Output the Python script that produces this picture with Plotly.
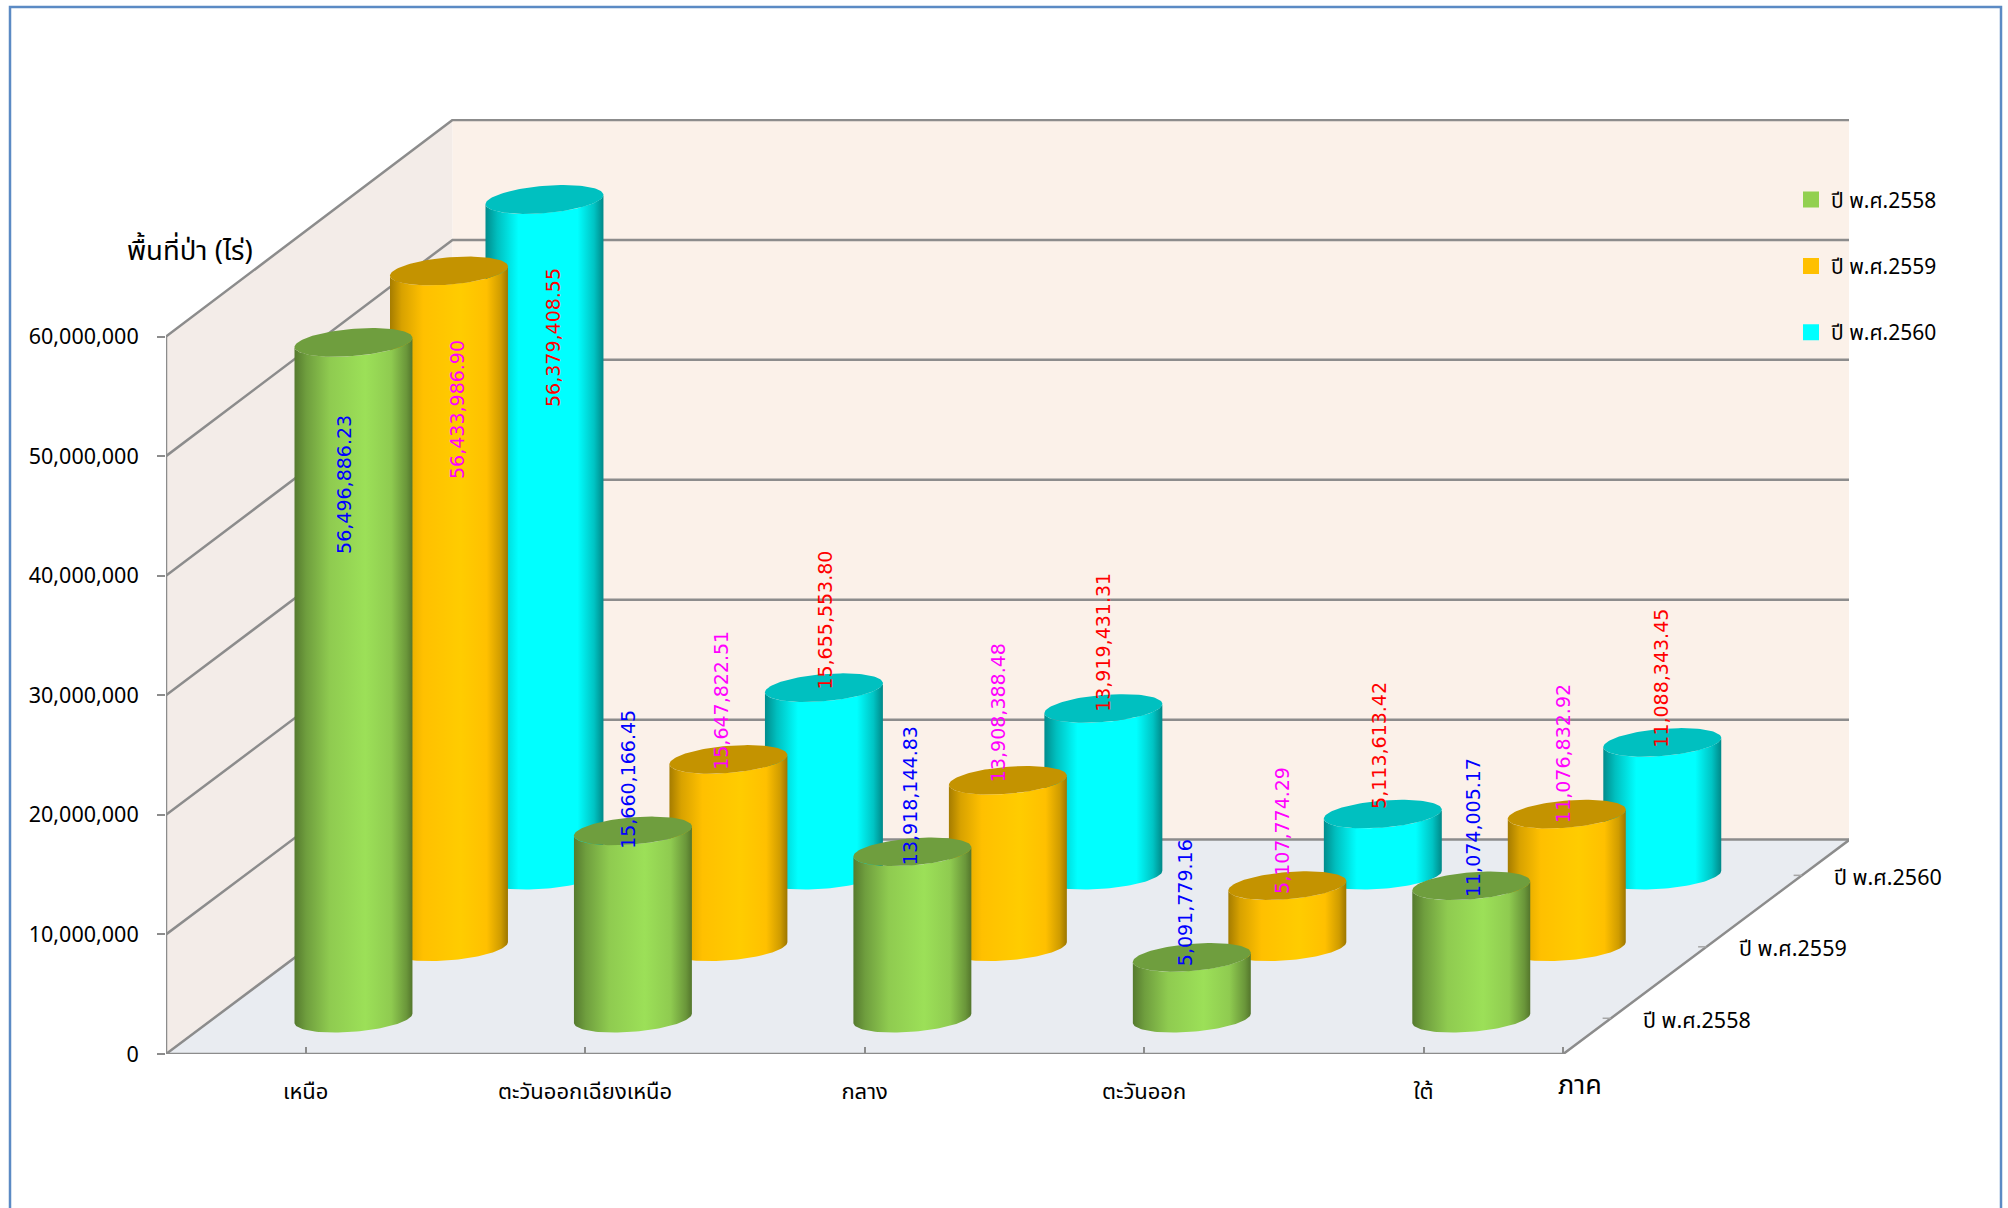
import numpy as np
import plotly.graph_objects as go

# ---- data ----
CATEGORIES = ["เหนือ", "ตะวันออกเฉียงเหนือ", "กลาง", "ตะวันออก", "ใต้"]
SERIES = ["ปี พ.ศ.2558", "ปี พ.ศ.2559", "ปี พ.ศ.2560"]
Y2558 = [56496886.23, 15660166.45, 13918144.83, 5091779.16, 11074005.17]
Y2559 = [56433986.90, 15647822.51, 13908388.48, 5107774.29, 11076832.92]
Y2560 = [56379408.55, 15655553.80, 13919431.31, 5113613.42, 11088343.45]
Y_TICKS = [0, 10000000, 20000000, 30000000, 40000000, 50000000, 60000000]
Y_TITLE = "พื้นที่ป่า (ไร่)"
X_TITLE = "ภาค"

# ---- style and geometry ----
W, H = 2008, 1208
L, R, T, B = 166, 1849, 119, 1054.5
PX_PER_CAT = 279.45
PX_PER_VAL = 119.63 / 1e7
DEPTH_X = 286.5 / PX_PER_CAT        # category units moved by full depth
DEPTH_Y = 214.5 / PX_PER_VAL        # value units moved by full depth
STRETCH = 0.0031
XMAX = (R - L) / PX_PER_CAT
YMAX = (B - T) / PX_PER_VAL
RAD_U = 55.8 / PX_PER_CAT           # cylinder radius across
RAD_D = 0.0666                      # cylinder radius in depth
FONT = "Noto Sans Thai, Noto Sans, Tahoma, sans-serif"
LABEL_FONT = "DejaVu Sans"
GRID = "#8c8c8c"
BODY = [
    [[0, "#557a2e"], [0.1, "#6f9e3e"], [0.3, "#8fcb50"], [0.6, "#9ce058"], [0.82, "#8fcb50"], [0.95, "#6a963a"], [1, "#54762c"]],
    [[0, "#a57c00"], [0.1, "#d8a200"], [0.28, "#ffc000"], [0.6, "#ffcc00"], [0.82, "#ffc000"], [0.94, "#cf9c00"], [1, "#9c7600"]],
    [[0, "#008c8c"], [0.1, "#00bfbf"], [0.28, "#00ffff"], [0.78, "#00ffff"], [0.92, "#00c4c4"], [1, "#008888"]],
]
TOP = ["#6f9e3e", "#c49300", "#00c0c0"]
SWATCH = ["#92d050", "#ffc000", "#00ffff"]
LABEL_COLOR = ["#0000ff", "#ff00ff", "#ff0000"]
# label centre relative to bar-top centre, in px: [category][series]
LABEL_SHIFT = [
    [(-9, 142), (8, 138), (8, 138)],
    [(-5, -52), (-7, -59), (1, -68)],
    [(-3, -56), (-10, -68), (0, -66)],
    [(-6, -55), (-6, -55), (-4, -69)],
    [(2, -58), (-4, -61), (-1, -64)],
]


def project(u, v, d):
    """oblique projection of (category position, value, depth 0..1) on the 2D axes"""
    u, v, d = np.asarray(u, float), np.asarray(v, float), np.asarray(d, float)
    return u + d * DEPTH_X, v * (1 + STRETCH * d) + d * DEPTH_Y


def poly(pts, fill, name="wall"):
    a = np.array(pts, float)
    x, y = project(a[:, 0], a[:, 1], a[:, 2])
    return go.Scatter(x=x, y=y, mode="lines", fill="toself", fillcolor=fill,
                      line=dict(width=0), hoverinfo="skip", showlegend=False, name=name, cliponaxis=False)


def path(pts, width=2, color=GRID):
    a = np.array(pts, float)
    x, y = project(a[:, 0], a[:, 1], a[:, 2])
    return go.Scatter(x=x, y=y, mode="lines", line=dict(color=color, width=width),
                      hoverinfo="skip", showlegend=False, cliponaxis=False)


fig = go.Figure()
ymax_tick = Y_TICKS[-1]
nc = len(CATEGORIES)
fig.add_trace(poly([(0, 0, 0), (0, ymax_tick, 0), (0, ymax_tick, 1), (0, 0, 1)], "#f3ece8"))
fig.add_trace(poly([(0, 0, 1), (0, ymax_tick, 1), (nc, ymax_tick, 1), (nc, 0, 1)], "#fbf1e9"))
fig.add_trace(poly([(0, 0, 0), (nc, 0, 0), (nc, 0, 1), (0, 0, 1)], "#e9ecf1"))
for t in Y_TICKS:
    fig.add_trace(path([(0, t, 0), (0, t, 1), (nc, t, 1)], 2.5))
fig.add_trace(path([(0, 0, 0), (0, ymax_tick, 0)], 2.5))
fig.add_trace(path([(0, 0, 0), (nc, 0, 0), (nc, 0, 1)], 2.5))
for s in range(3):
    dd = (2 * s + 1) / 6
    fig.add_trace(path([(nc, 0, dd), (nc - 0.03, 0, dd)], 1.5, "#a6a6a6"))

values = [Y2558, Y2559, Y2560]
theta = np.linspace(0, 2 * np.pi, 121)


def rim(u0, d0, v, th):
    uu = u0 + RAD_U * np.cos(th)
    dd = d0 - RAD_D * np.sin(th)
    return project(uu, np.full_like(uu, v), dd)


annots = []
for s in (2, 1, 0):
    d0 = (2 * s + 1) / 6
    for i in range(nc):
        u0 = i + 0.5
        v = values[s][i]
        # the silhouette has its side edges at the extreme x of the oblique ellipse
        ext = np.arctan2(-RAD_D * DEPTH_X, RAD_U)
        arc = np.linspace(ext, ext + np.pi, 61)
        bx, by = rim(u0, d0, 0, arc)
        tx, ty = rim(u0, d0, v, arc[::-1])
        # keep the lower arc at the base and the upper arc at the top
        if by.mean() > project(u0, 0, d0)[1]:
            arc = arc + np.pi
            bx, by = rim(u0, d0, 0, arc)
            tx, ty = rim(u0, d0, v, arc[::-1])
        fig.add_trace(go.Scatter(
            x=np.r_[bx, tx, bx[0]], y=np.r_[by, ty, by[0]], mode="lines", fill="toself",
            fillgradient=dict(type="horizontal", colorscale=BODY[s]),
            line=dict(width=0), hoverinfo="skip", showlegend=False, cliponaxis=False,
            name=f"{SERIES[s]} {CATEGORIES[i]}"))
        cx, cy = rim(u0, d0, v, theta)
        fig.add_trace(go.Scatter(x=cx, y=cy, mode="lines", fill="toself", fillcolor=TOP[s],
                                 line=dict(width=0), hoverinfo="skip", showlegend=False, cliponaxis=False))
        px, py = project(u0, v, d0)
        dx, dy = LABEL_SHIFT[i][s]
        annots.append(dict(x=float(px), y=float(py), xref="x", yref="y", text=f"{v:,.2f}",
                           textangle=-90, showarrow=False, xshift=dx, yshift=-dy,
                           font=dict(family=LABEL_FONT, size=19, color=LABEL_COLOR[s])))

# legend entries
for s in range(3):
    fig.add_trace(go.Scatter(x=[None], y=[None], mode="markers", name=SERIES[s], legendgroup=SERIES[s],
                             marker=dict(symbol="square", size=16, color=SWATCH[s])))

# depth axis labels
for s in range(3):
    dd = (2 * s + 1) / 6
    px, py = project(nc, 0, dd)
    annots.append(dict(x=float(px), y=float(py), xref="x", yref="y", text=SERIES[s], showarrow=False,
                       xanchor="left", yanchor="middle", xshift=30, yshift=-3,
                       font=dict(family=FONT, size=21.5, color="#000000")))
annots.append(dict(x=(189.5 - L) / (R - L), y=(B - 252) / (B - T), xref="paper", yref="paper", text=Y_TITLE,
                   xanchor="center", yanchor="middle",
                   showarrow=False, font=dict(family=FONT, size=27.5, color="#000000")))
annots.append(dict(x=(1580 - L) / (R - L), y=(B - 1086) / (B - T), xref="paper", yref="paper", text=X_TITLE,
                   xanchor="center", yanchor="middle",
                   showarrow=False, font=dict(family=FONT, size=27, color="#000000")))

fig.update_layout(
    width=W, height=H, margin=dict(l=L, r=W - R, t=T, b=H - B, pad=0),
    paper_bgcolor="white", plot_bgcolor="white", annotations=annots,
    font=dict(family=FONT, size=21, color="#000000"),
    legend=dict(x=(1791 - L) / (R - L), y=(B - 179.5) / (B - T), xanchor="left", yanchor="top",
                bgcolor="rgba(0,0,0,0)", tracegroupgap=36, font=dict(family=FONT, size=21), itemsizing="trace"),
    shapes=[dict(type="rect", xref="paper", yref="paper",
                 x0=(10 - L) / (R - L), x1=(2001 - L) / (R - L), y0=(B - 1230) / (B - T), y1=(B - 7) / (B - T),
                 line=dict(color="#5b8ac4", width=2.5), layer="below")],
    xaxis=dict(range=[0, XMAX], showgrid=False, zeroline=False, showline=False,
               tickvals=[i + 0.5 for i in range(nc)] + [nc], ticktext=CATEGORIES + [""],
               ticks="inside", ticklen=7, tickcolor=GRID, tickwidth=1.5, ticklabelstandoff=22,
               tickfont=dict(family=FONT, size=22, color="#000000")),
    yaxis=dict(range=[0, YMAX], showgrid=False, zeroline=False, showline=False,
               tickvals=Y_TICKS, tickformat=",d",
               ticks="outside", ticklen=8, tickcolor=GRID, tickwidth=2, ticklabelstandoff=14,
               tickfont=dict(family=FONT, size=21.5, color="#000000")),
)
fig.write_html("out.html", post_script="document.body.style.margin='0';", config={"displayModeBar": False})
